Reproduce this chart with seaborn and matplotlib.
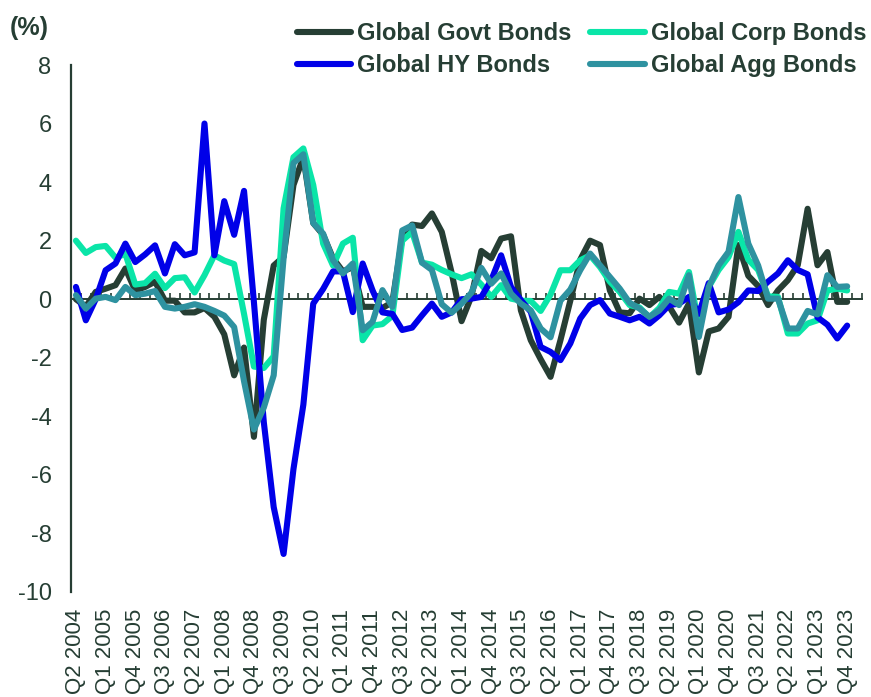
import numpy as np
import pandas as pd
import seaborn as sns
import matplotlib
matplotlib.use("Agg")
import matplotlib.pyplot as plt
from matplotlib.lines import Line2D

# quarterly data Q2 2004 .. Q4 2023, values in %
quarters = [f"Q{p.quarter} {p.year}" for p in pd.period_range("2004Q2", "2023Q4", freq="Q")]

govt = [0.0, -0.25, 0.25, 0.36, 0.48, 1.05, 0.3, 0.42, 0.6, -0.05,
        -0.05, -0.45, -0.45, -0.3, -0.6, -1.2, -2.6, -1.65, -4.7, -0.7,
        1.15, 1.45, 3.9, 4.85, 2.6, 2.2, 1.4, 0.95, 1.1, -0.26,
        -0.26, -0.3, -0.1, 2.1, 2.55, 2.5, 2.93, 2.3, 0.9, -0.75,
        0.1, 1.65, 1.4, 2.07, 2.15, -0.38, -1.4, -2.05, -2.65, -1.4,
        -0.05, 1.35, 2.0, 1.85, 0.3, -0.45, -0.48, 0.02, -0.2, 0.08,
        -0.25, -0.8, -0.15, -2.5, -1.1, -1.0, -0.6, 1.85, 0.8, 0.45,
        -0.2, 0.3, 0.65, 1.16, 3.09, 1.16, 1.61, -0.09, -0.09]
corp = [2.0, 1.58, 1.78, 1.82, 1.42, 1.55, 0.5, 0.55, 0.87, 0.38,
        0.72, 0.75, 0.23, 0.82, 1.5, 1.32, 1.2, -0.5, -2.3, -2.35,
        -1.95, 3.1, 4.85, 5.15, 3.9, 1.9, 1.15, 1.9, 2.1, -1.4,
        -0.9, -0.85, -0.57, 2.0, 2.3, 1.25, 1.18, 1.0, 0.85, 0.72,
        0.85, 0.5, 0.08, 0.48, 0.02, -0.05, -0.06, -0.4, 0.16, 0.99,
        0.99, 1.33, 1.5, 1.1, 0.6, 0.25, -0.2, -0.28, -0.62, -0.3,
        0.25, 0.19, 0.93, -0.9, 0.42, 1.0, 1.44, 2.3, 1.35, 1.0,
        0.1, 0.08, -1.17, -1.17, -0.83, -0.72, 0.3, 0.36, 0.3]
hy = [0.42, -0.72, 0.0, 0.99, 1.22, 1.9, 1.27, 1.53, 1.84, 0.88,
      1.88, 1.5, 1.6, 6.0, 1.5, 3.35, 2.2, 3.7, -0.1, -4.2,
      -7.1, -8.7, -5.8, -3.6, -0.15, 0.35, 0.95, 0.95, -0.44, 1.22,
      0.3, -0.45, -0.5, -1.05, -0.97, -0.55, -0.15, -0.6, -0.45, 0.0,
      0.02, 0.08, 0.65, 1.5, 0.42, -0.03, -0.43, -1.63, -1.8, -2.08,
      -1.51, -0.66, -0.2, -0.03, -0.49, -0.6, -0.72, -0.6, -0.83, -0.55,
      -0.2, -0.15, 0.08, -0.5, 0.55, -0.45, -0.35, -0.1, 0.3, 0.28,
      0.6, 0.88, 1.33, 1.0, 0.85, -0.62, -0.87, -1.34, -0.9]
agg = [0.14, -0.32, 0.02, 0.08, -0.03, 0.42, 0.14, 0.19, 0.28, -0.26,
       -0.32, -0.26, -0.17, -0.26, -0.4, -0.56, -0.95, -2.8, -4.45, -3.7,
       -2.6, 1.4, 4.65, 4.95, 2.6, 2.24, 1.33, 0.88, 1.22, -1.06,
       -0.77, 0.31, -0.26, 2.35, 2.52, 1.25, 1.0, -0.17, -0.46, -0.15,
       0.22, 1.07, 0.53, 0.88, 0.19, -0.15, -0.38, -1.0, -1.3, -0.05,
       0.33, 0.99, 1.56, 1.16, 0.76, 0.36, -0.12, -0.32, -0.6, -0.38,
       0.02, -0.2, 0.82, -1.29, 0.42, 1.16, 1.62, 3.49, 1.9, 1.15,
       0.02, 0.02, -1.0, -1.0, -0.4, -0.52, 0.82, 0.42, 0.44]

series_names = ["Global Govt Bonds", "Global Corp Bonds", "Global HY Bonds", "Global Agg Bonds"]
colors = {"Global Govt Bonds": "#263e34", "Global Corp Bonds": "#0ae5a8",
          "Global HY Bonds": "#0000e8", "Global Agg Bonds": "#2e92a0"}
dark = "#263e34"

df = pd.DataFrame({"q": np.arange(len(quarters)), "Global Govt Bonds": govt,
                   "Global Corp Bonds": corp, "Global HY Bonds": hy,
                   "Global Agg Bonds": agg})
long = df.melt(id_vars="q", var_name="series", value_name="ret")

sns.set_style("white")
plt.rcParams["font.family"] = ["Liberation Sans", "DejaVu Sans"]
plt.rcParams["axes.unicode_minus"] = False

fig = plt.figure(figsize=(8.71, 6.97), dpi=100)
ax = fig.add_axes([71 / 871, 1 - 592 / 697, (862 - 71) / 871, (592 - 65) / 697])

sns.lineplot(data=long, x="q", y="ret", hue="series", hue_order=series_names,
             palette=colors, linewidth=4.4, ax=ax, legend=False)

ax.set_xlim(-0.5, len(quarters) + 0.5)
ax.set_ylim(-10, 8)
ax.set_xlabel("")
ax.set_ylabel("")
for s in ["top", "right", "bottom"]:
    ax.spines[s].set_visible(False)
ax.spines["left"].set_color(dark)
ax.spines["left"].set_linewidth(1.6)

ax.set_yticks(np.arange(-10, 9, 2))
ax.tick_params(axis="y", direction="in", length=5, width=1.5, colors=dark,
               labelsize=17, pad=14)
ax.set_xticks(np.arange(0, len(quarters), 3))
ax.set_xticklabels(quarters[::3], rotation=90)
ax.tick_params(axis="x", length=0, labelsize=16, pad=12, colors=dark)

# zero line with quarter tick marks
sec = ax.secondary_xaxis(10 / 18)
sec.set_xticks(np.arange(-0.5, len(quarters) + 1, 1))
sec.tick_params(direction="out", length=4, width=1.2, colors=dark,
                labeltop=False, labelbottom=False)
for s in ["top", "bottom"]:
    sec.spines[s].set_color(dark)
    sec.spines[s].set_linewidth(1.4)

fig.text(10 / 871, 1 - 28 / 697, "(%)", fontsize=18, fontweight="bold",
         color=dark, va="center", ha="left")

order = ["Global Govt Bonds", "Global HY Bonds", "Global Corp Bonds", "Global Agg Bonds"]
handles = [Line2D([], [], color=colors[n], lw=4.4, solid_capstyle="round") for n in order]
fig.legend(handles, order, ncol=2, loc="upper right",
           bbox_to_anchor=(1 - 5 / 871, 1 - 22 / 697), frameon=False,
           prop={"weight": "bold", "size": 17}, labelcolor=dark,
           handlelength=2.3, handletextpad=0.25, columnspacing=0.8,
           labelspacing=0.38, borderpad=0, borderaxespad=0)

fig.savefig("out.png", dpi=100)
